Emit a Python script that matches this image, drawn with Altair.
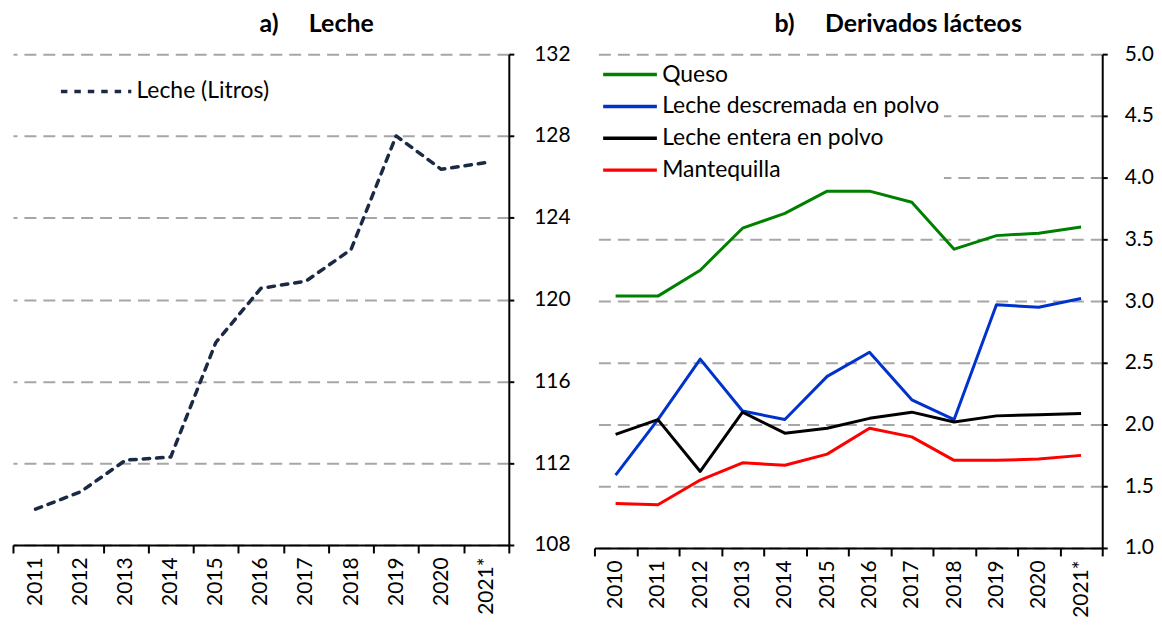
import altair as alt
import pandas as pd

# Panel a) data
years_a = ["2011", "2012", "2013", "2014", "2015", "2016", "2017", "2018", "2019", "2020", "2021*"]
leche = [109.75, 110.6, 112.15, 112.3, 117.9, 120.55, 120.9, 122.45, 128.0, 126.37, 126.7]

# Panel b) data
years_b = ["2010", "2011", "2012", "2013", "2014", "2015", "2016", "2017", "2018", "2019", "2020", "2021*"]
queso = [3.04, 3.04, 3.25, 3.59, 3.71, 3.89, 3.89, 3.80, 3.42, 3.53, 3.55, 3.60]
descremada = [1.59, 2.04, 2.53, 2.11, 2.04, 2.39, 2.585, 2.20, 2.04, 2.97, 2.95, 3.02]
entera = [1.92, 2.04, 1.62, 2.10, 1.93, 1.97, 2.05, 2.10, 2.02, 2.07, 2.08, 2.09]
mantequilla = [1.36, 1.35, 1.55, 1.69, 1.67, 1.76, 1.97, 1.90, 1.71, 1.71, 1.72, 1.75]

series_names = ["Queso", "Leche descremada en polvo", "Leche entera en polvo", "Mantequilla"]
series_colors = ["#008000", "#0033CC", "#000000", "#FF0000"]

FONT = "Lato"
GRID = "#A6A6A6"
NB = "\u00a0" * 5

df_a = pd.DataFrame({"year": years_a, "value": leche, "serie": "Leche (Litros)"})
rows = []
for name, vals in zip(series_names, [queso, descremada, entera, mantequilla]):
    for y, v in zip(years_b, vals):
        rows.append({"year": y, "value": v, "serie": name})
df_b = pd.DataFrame(rows)


def x_enc(years):
    return alt.X(
        "year:N",
        sort=years,
        bandPosition=0.5,
        scale=alt.Scale(paddingInner=0, paddingOuter=0),
        axis=alt.Axis(
            title=None,
            labelAngle=-90,
            labelAlign="right",
            labelBaseline="middle",
            labelFontSize=21,
            labelFont=FONT,
            labelColor="black",
            labelPadding=4,
            tickBand="extent",
            tickSize=8,
            tickColor="black",
            tickWidth=2,
            domainColor="black",
            domainWidth=2,
            grid=False,
        ),
    )


def y_axis(values, fmt, pad):
    return alt.Axis(
        orient="right",
        title=None,
        values=values,
        format=fmt,
        labelFontSize=21,
        labelFont=FONT,
        labelColor="black",
        labelPadding=pad,
        tickSize=5,
        tickColor="black",
        tickWidth=2,
        domainColor="black",
        domainWidth=2,
        grid=True,
        gridColor=GRID,
        gridDash=[12, 7],
        gridWidth=2,
    )


left = (
    alt.Chart(df_a)
    .mark_line(strokeWidth=3.5, strokeDash=[6.5, 7], strokeCap="round", strokeJoin="round")
    .encode(
        x=x_enc(years_a),
        y=alt.Y(
            "value:Q",
            scale=alt.Scale(domain=[108, 132], nice=False, zero=False),
            axis=y_axis([108, 112, 116, 120, 124, 128, 132], "d", 20),
        ),
        color=alt.Color(
            "serie:N",
            scale=alt.Scale(range=["#1B2A44"]),
            legend=alt.Legend(
                title=None,
                orient="none",
                legendX=46,
                legendY=0,
                symbolType="stroke",
                symbolSize=5000,
                symbolStrokeWidth=3.5,
                symbolDash=[6.5, 7],
                labelFontSize=23,
                labelFont=FONT,
                labelColor="black",
                labelOffset=3,
                labelLimit=500,
                padding=0,
            ),
        ),
    )
    .properties(
        width=498,
        height=493,
        title=alt.TitleParams(
            "a)" + NB + "Leche",
            fontSize=25,
            font=FONT,
            fontWeight="bold",
            color="black",
            offset=6,
            dx=56,
        ),
    )
)

right = (
    alt.Chart(df_b)
    .mark_line(strokeWidth=3, strokeJoin="round")
    .encode(
        x=x_enc(years_b),
        y=alt.Y(
            "value:Q",
            scale=alt.Scale(domain=[1.0, 5.0], nice=False, zero=False),
            axis=y_axis([1.0, 1.5, 2.0, 2.5, 3.0, 3.5, 4.0, 4.5, 5.0], ".1f", 17),
        ),
        color=alt.Color(
            "serie:N",
            sort=series_names,
            scale=alt.Scale(domain=series_names, range=series_colors),
            legend=alt.Legend(
                title=None,
                orient="none",
                legendX=0,
                legendY=5,
                symbolType="M-1,0L7,0",
                symbolSize=182,
                symbolStrokeWidth=3.5,
                labelFontSize=23,
                labelFont=FONT,
                labelColor="black",
                labelOffset=41,
                labelLimit=500,
                rowPadding=8,
                padding=4,
                fillColor="white",
            ),
        ),
    )
    .properties(
        width=510,
        height=496,
        title=alt.TitleParams(
            "b)" + NB + "Derivados lácteos",
            fontSize=25,
            font=FONT,
            fontWeight="bold",
            color="black",
            offset=6,
            dx=50,
        ),
    )
)

chart = (
    alt.hconcat(left, right, spacing=13)
    .resolve_scale(color="independent", x="independent", y="independent")
    .properties(padding={"left": -6, "top": 3, "right": 0, "bottom": 0})
    .configure_view(stroke=None)
)

chart.save("out.html", embed_options={"renderer": "svg", "actions": False})
